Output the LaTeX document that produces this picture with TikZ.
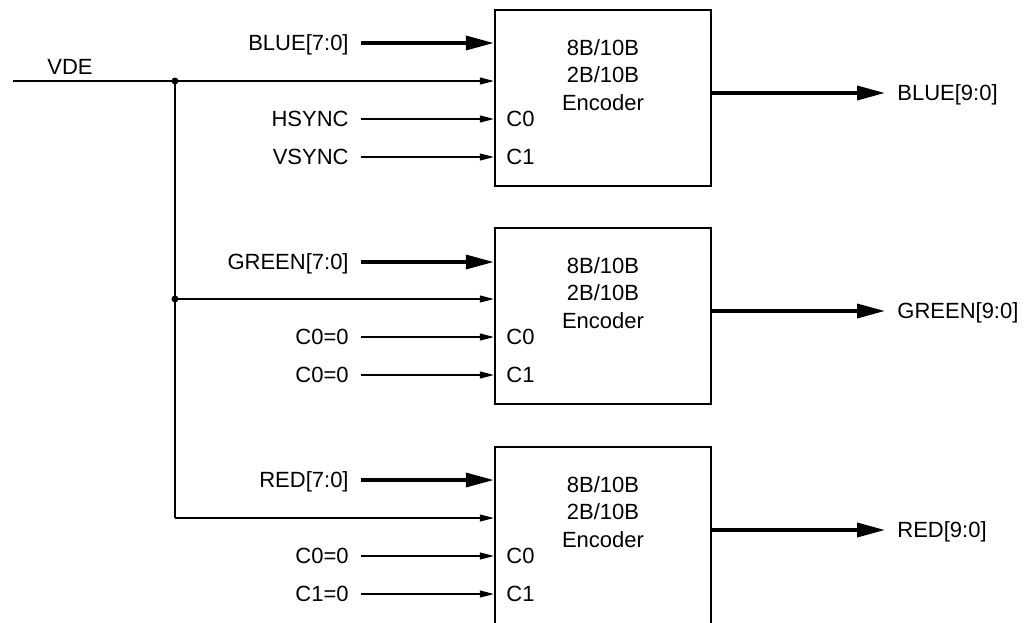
\documentclass[tikz,border=0pt]{standalone}
\usepackage{fontspec}
\setmainfont{Liberation Sans}
\usetikzlibrary{arrows.meta}

\begin{document}
\begin{tikzpicture}[
    x=0.5pt, y=-0.5pt,
    every node/.style={font=\fontsize{11}{13.6}\selectfont, text=black},
    encbox/.style={draw, line width=1.2pt, minimum width=108pt, minimum height=88pt, inner sep=0pt},
    enctext/.style={align=center, inner sep=0pt},
    inlbl/.style={anchor=east, inner xsep=6pt, inner ysep=1pt, text depth=0pt},
    outlbl/.style={anchor=west, inner xsep=6pt, inner ysep=1pt, text depth=0pt},
    port/.style={anchor=west, inner sep=0pt},
    sig/.style={line width=0.6pt, -{Triangle[length=7pt, width=3.5pt]}},
    bus/.style={line width=1.75pt, -{Triangle[length=14pt, width=7pt]}},
    junction/.style={circle, fill, inner sep=0pt, minimum size=3.5pt}
]
\useasboundingbox (0,0) rectangle (1033,622);

% encoders
\node[encbox] (enc1) at (603,98) {};
\node[enctext] (title1) at (603,75) {8B/10B\\2B/10B\\Encoder};
\node[port] (c0a) at (506,119) {C0};
\node[port] (c1a) at (506,157) {C1};

\node[encbox] (enc2) at (603,316) {};
\node[enctext] (title2) at (603,293) {8B/10B\\2B/10B\\Encoder};
\node[port] (c0b) at (506,337) {C0};
\node[port] (c1b) at (506,375) {C1};

\node[encbox, minimum height=90pt] (enc3) at (603,537) {};
\node[enctext] (title3) at (603,512) {8B/10B\\2B/10B\\Encoder};
\node[port] (c0c) at (506,556) {C0};
\node[port] (c1c) at (506,594) {C1};

% inputs
\node[inlbl] (blue) at (361,43) {BLUE[7:0]};
\node[inlbl] (hsync) at (361,119) {HSYNC};
\node[inlbl] (vsync) at (361,157) {VSYNC};
\node[inlbl] (green) at (361,262) {GREEN[7:0]};
\node[inlbl] (gc0) at (361,337) {C0=0};
\node[inlbl] (gc1) at (361,375) {C0=0};
\node[inlbl] (red) at (361,480) {RED[7:0]};
\node[inlbl] (rc0) at (361,556) {C0=0};
\node[inlbl] (rc1) at (361,594) {C1=0};

\draw[bus] (blue.east) -- (blue.east -| enc1.west);
\draw[sig] (hsync.east) -- (hsync.east -| enc1.west);
\draw[sig] (vsync.east) -- (vsync.east -| enc1.west);
\draw[bus] (green.east) -- (green.east -| enc2.west);
\draw[sig] (gc0.east) -- (gc0.east -| enc2.west);
\draw[sig] (gc1.east) -- (gc1.east -| enc2.west);
\draw[bus] (red.east) -- (red.east -| enc3.west);
\draw[sig] (rc0.east) -- (rc0.east -| enc3.west);
\draw[sig] (rc1.east) -- (rc1.east -| enc3.west);

% VDE fan-out
\coordinate (vde) at (13,81);
\node[anchor=south west, inner sep=0pt] (vdelbl) at (47,75) {VDE};
\node[junction] (j1) at (175,81) {};
\node[junction] (j2) at (175,299) {};
\coordinate (j3) at (175,518);
\draw[sig] (vde) -- (vde -| enc1.west);
\draw[line width=0.6pt] (j1.center) -- (j3);
\draw[sig] (j2.center) -- (j2 -| enc2.west);
\draw[sig] (j3) -- (j3 -| enc3.west);

% outputs
\node[outlbl] (bout) at (885,93) {BLUE[9:0]};
\node[outlbl] (gout) at (885,311) {GREEN[9:0]};
\node[outlbl] (rout) at (885,530) {RED[9:0]};
\draw[bus] (bout.west -| enc1.east) -- (bout.west);
\draw[bus] (gout.west -| enc2.east) -- (gout.west);
\draw[bus] (rout.west -| enc3.east) -- (rout.west);
\end{tikzpicture}
\end{document}
